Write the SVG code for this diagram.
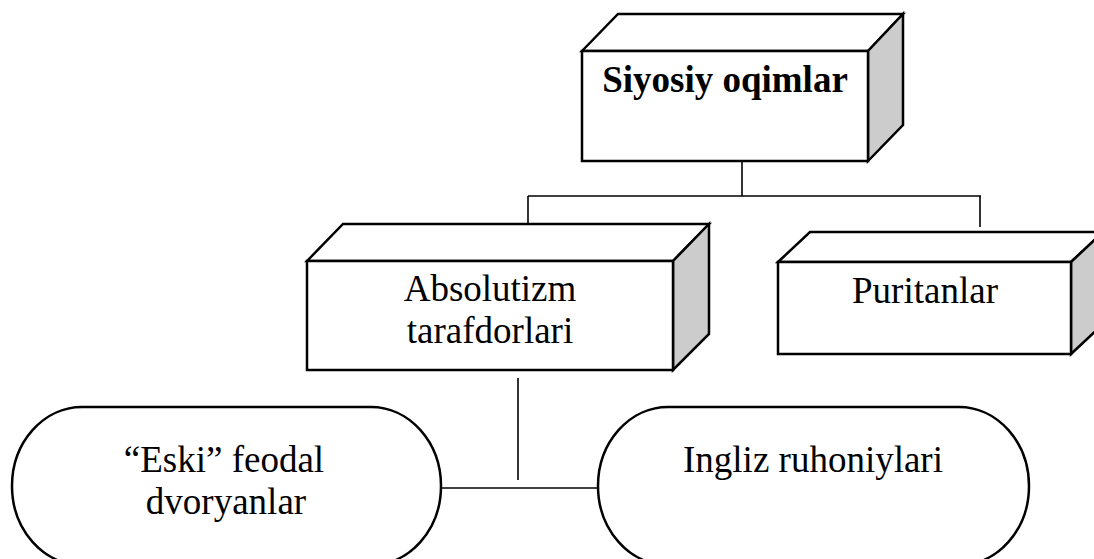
<svg xmlns="http://www.w3.org/2000/svg" width="1094" height="559" viewBox="0 0 1094 559">
<style>
.face{fill:#ffffff;stroke:#000000;stroke-width:2.5;stroke-linejoin:miter}
.side{fill:#cccccc;stroke:#000000;stroke-width:2.5;stroke-linejoin:miter}
.term{fill:#ffffff;stroke:#000000;stroke-width:2.5}
.conn{fill:none;stroke:#000000;stroke-width:1.6}
.t{font-family:"Liberation Serif","Times New Roman",serif;font-size:37px;fill:#000000;text-anchor:middle}
.b{font-weight:bold}
</style>
<rect width="1094" height="559" fill="#ffffff"/>
<g id="connectors">
<line class="conn" x1="742" y1="161" x2="742" y2="196"/>
<line class="conn" x1="528" y1="196" x2="981" y2="196"/>
<line class="conn" x1="528" y1="196" x2="528" y2="224"/>
<line class="conn" x1="980" y1="196" x2="980" y2="227"/>
<line class="conn" x1="518" y1="378" x2="518" y2="480"/>
<line class="conn" x1="441" y1="488" x2="598" y2="488"/>
</g>
<g id="siyosiy">
<polygon class="face" points="582,51 618,14 903,14 868,51"/>
<polygon class="side" points="868,51 903,14 903,125 868,161"/>
<rect class="face" x="582" y="51" width="286" height="110"/>
<text class="t b" x="725" y="92">Siyosiy oqimlar</text>
</g>
<g id="absolutizm">
<polygon class="face" points="307,261 343,224 709,224 673,261"/>
<polygon class="side" points="673,261 709,224 709,334 673,370"/>
<rect class="face" x="307" y="261" width="366" height="109"/>
<text class="t" x="490" y="301">Absolutizm</text>
<text class="t" x="490" y="343">tarafdorlari</text>
</g>
<g id="puritanlar">
<polygon class="face" points="778,262 810,232 1103,232 1071,262"/>
<polygon class="side" points="1071,262 1103,232 1103,324 1071,354"/>
<rect class="face" x="778" y="262" width="293" height="92"/>
<text class="t" x="925" y="303">Puritanlar</text>
</g>
<g id="eski">
<path class="term" d="M82 407H371A70 79 0 0 1 371 565H82A70 79 0 0 1 82 407Z"/>
<text class="t" x="224" y="472">“Eski” feodal</text>
<text class="t" x="226" y="514">dvoryanlar</text>
</g>
<g id="ingliz">
<path class="term" d="M668 407H959A70 79 0 0 1 959 565H668A70 79 0 0 1 668 407Z"/>
<text class="t" x="813" y="472">Ingliz ruhoniylari</text>
</g>
</svg>
